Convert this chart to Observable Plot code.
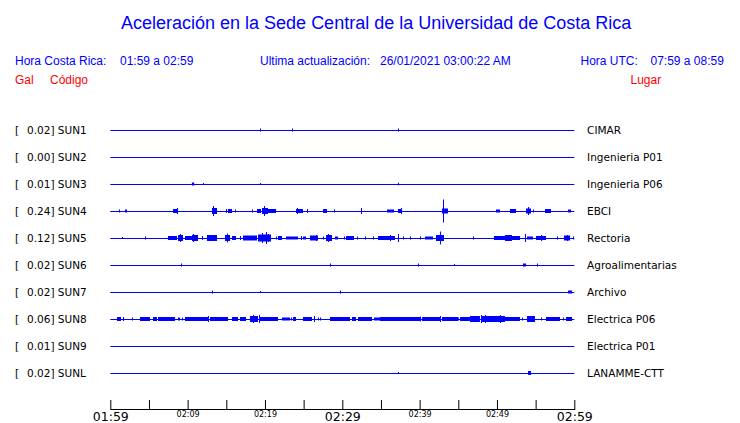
<!DOCTYPE html>
<html><head><meta charset="utf-8">
<script src="https://cdn.jsdelivr.net/npm/d3@7"></script>
<script src="https://cdn.jsdelivr.net/npm/@observablehq/plot@0.6"></script>
<style>
body{margin:0;background:#fff;width:740px;height:423px;overflow:hidden;font-family:"Liberation Sans",Arial,sans-serif;}
#head{position:relative;height:90px;width:740px;}
#head span{position:absolute;white-space:pre;line-height:1;}
.b{color:#0000ff;font-size:12px;top:54.8px}
.r{color:#ff0000;font-size:12px;top:74.1px}
#title{font-size:18px;color:#0000ff;top:13.8px;left:121px}
#chart{height:333px}
</style></head><body>
<div id="head"></div>
<div id="chart"></div>
<script>
// ---------- data ----------
const titleText = "Aceleración en la Sede Central de la Universidad de Costa Rica";
const localWindow = "01:59 a 02:59";
const utcWindow = "07:59 a 08:59";
const lastUpdate = "26/01/2021 03:00:22 AM";
const startTime = "01:59";
const endTime = "02:59";
const tickLabels = ["01:59","02:04","02:09","02:14","02:19","02:24","02:29","02:34","02:39","02:44","02:49","02:54","02:59"];
const majorLabels = ["01:59","02:29","02:59"];
const minorLabels = ["02:09","02:19","02:39","02:49"];

const stations = ["SUN1","SUN2","SUN3","SUN4","SUN5","SUN6","SUN7","SUN8","SUN9","SUNL"];
const places = ["CIMAR","Ingenieria P01","Ingenieria P06","EBCI","Rectoria","Agroalimentarias","Archivo","Electrica P06","Electrica P01","LANAMME-CTT"];
const peakGal = [0.02,0.00,0.01,0.24,0.12,0.02,0.02,0.06,0.01,0.02];

// bursts: [start minute after 01:59, end minute, half amplitude (counts)]
// spikes: [minute after 01:59, half amplitude (counts)]
const burstsSUN1 = [];
const spikesSUN1 = [[19.36,1.5],[23.5,1.5],[37.2,1.5]];
const burstsSUN2 = [];
const spikesSUN2 = [];
const burstsSUN3 = [[10.55,10.85,1.5]];
const spikesSUN3 = [[11.99,1],[19.36,1],[37.2,1.3]];
const burstsSUN4 = [[1.9,2.16,1.5],[8.11,8.75,2],[13.15,13.8,3],[15.22,15.74,2],[18.97,19.49,2],[19.62,20.39,3],[20.39,21.43,2],[24.01,24.92,2],[27.51,28.02,2],[35.78,36.69,1.5],[37.2,37.72,2],[42.89,43.67,2.5],[49.87,50.39,1.5],[51.68,52.47,2],[53.76,54.4,2.5],[56.21,56.99,2],[59.19,59.58,1.5]];
const spikesSUN4 = [[1.12,1.5],[8.62,3],[13.28,5],[14.96,2],[16.13,1.5],[18.32,1.5],[19.88,5],[24.14,3],[25.44,2],[28.93,1.5],[32.42,3],[37.6,3],[43.02,11.5],[54.02,4],[54.66,1.5]];
const burstsSUN5 = [[7.46,8.62,2],[8.75,9.4,3],[9.66,10.56,2],[10.56,11.34,3],[12.5,13.8,3],[14.83,15.48,3],[15.74,16.25,2],[17.16,18.97,2.5],[19.1,20.78,3.5],[21.68,22.2,2],[22.72,24.27,1.5],[24.92,25.31,1.5],[25.82,26.86,2.5],[27.9,28.67,3],[29.06,29.45,1.5],[30.48,31.51,2],[34.62,36.81,2],[40.7,41.73,1.5],[42.12,43.15,3],[49.61,52.98,2],[51.03,51.94,3],[53.89,54.66,1.5],[55.05,56.34,2],[58.67,59.45,2.5]];
const spikesSUN5 = [[1.51,1],[4.49,1.5],[9.01,4],[10.69,4],[11.86,2],[15.09,4.5],[16.77,2],[19.62,5],[20.13,6],[20.39,4],[21.43,1.5],[24.66,2],[26.6,3],[27.51,1.5],[28.15,4],[30.22,1.5],[31.9,1.5],[32.94,1.5],[33.97,1.5],[36.17,3],[37.2,4],[37.85,1.5],[38.75,1.5],[40.05,1.5],[42.64,6.5],[46.9,1.5],[53.63,4],[55.7,3],[57.76,1.5],[59.06,3],[59.84,1.5]];
const burstsSUN6 = [[53.37,53.76,1.5]];
const spikesSUN6 = [[9.14,1.5],[28.41,1.5],[39.79,1.5],[44.44,1],[55.18,1.5]];
const burstsSUN7 = [[59.19,59.71,1.5]];
const spikesSUN7 = [[13.15,1.5],[19.36,1],[29.71,1.5]];
const burstsSUN8 = [[0.87,1.38,2],[1.64,1.77,2],[3.84,5.13,2],[5.52,6.04,2],[6.17,8.37,2],[8.75,9.01,1.5],[9.66,12.63,2],[12.89,15.22,2],[15.74,16.51,2],[16.77,17.55,2],[18.06,19.1,3],[19.36,21.68,2],[22.2,23.24,1.5],[23.62,24.01,2],[24.92,26.08,2],[28.41,30.61,2],[30.61,31.0,2],[31.25,31.77,2],[32.03,33.84,2],[34.1,34.88,1.5],[34.88,37.2,2],[37.2,40.05,2],[40.31,42.64,2],[42.89,44.96,2],[45.22,46.51,2],[46.51,47.8,3],[48.06,51.03,3],[51.03,52.98,2],[53.89,54.92,3],[56.34,58.15,2],[58.93,59.71,2]];
const spikesSUN8 = [[2.81,1.5],[9.27,1.5],[12.63,3],[18.45,4],[19.23,4],[23.37,1.5],[26.34,3],[26.86,1.5],[27.12,1.5],[40.05,2.5],[42.64,3],[44.96,1.5],[47.93,4],[48.45,4],[50.39,4],[53.24,1.5],[55.7,1.5],[58.54,1.5]];
const burstsSUN9 = [];
const spikesSUN9 = [];
const burstsSUNL = [[54.02,54.4,2]];
const spikesSUNL = [[37.2,1]];

const countsPerTrace = 27; // display gain: trace separation in counts

// ---------- build ----------
const burstsByStation = [burstsSUN1,burstsSUN2,burstsSUN3,burstsSUN4,burstsSUN5,burstsSUN6,burstsSUN7,burstsSUN8,burstsSUN9,burstsSUNL];
const spikesByStation = [spikesSUN1,spikesSUN2,spikesSUN3,spikesSUN4,spikesSUN5,spikesSUN6,spikesSUN7,spikesSUN8,spikesSUN9,spikesSUNL];
const parse = d3.utcParse("%H:%M");
const t0 = parse(startTime), t1 = parse(endTime);
const at = m => new Date(+t0 + m * 60000);

const rows = stations.map((s, i) => ({s, i, place: places[i], gal: peakGal[i]}));
const bursts = burstsByStation.flatMap((arr, i) => arr.map(([a, b, amp]) => ({i, x1: at(a), x2: at(b), y1: i - amp / countsPerTrace, y2: i + amp / countsPerTrace})));
const spikes = spikesByStation.flatMap((arr, i) => arr.map(([m, amp]) => ({i, x: at(m), y1: i - amp / countsPerTrace, y2: i + amp / countsPerTrace})));

const head = document.getElementById("head");
head.innerHTML = `
<span id="title">${titleText}</span>
<span class="b" style="left:15px">Hora Costa Rica:</span>
<span class="b" style="left:120px">${localWindow}</span>
<span class="b" style="left:260px">Ultima actualización:</span>
<span class="b" style="left:380px">${lastUpdate}</span>
<span class="b" style="left:580.5px">Hora UTC:</span>
<span class="b" style="left:650.5px">${utcWindow}</span>
<span class="r" style="left:15px">Gal</span>
<span class="r" style="left:50px">Código</span>
<span class="r" style="left:630.5px">Lugar</span>`;

const blue = "#0000ff";
const chart = Plot.plot({
  width: 740, height: 333,
  marginLeft: 110.3, marginRight: 165.7, marginTop: 0, marginBottom: 14,
  x: {type: "utc", domain: [t0, t1], axis: null},
  y: {domain: [0, 9], range: [40, 283], axis: null},
  style: {fontFamily: "DejaVu Sans", fontSize: "10.5px", background: "white", color: "black"},
  marks: [
    Plot.ruleY(rows, {y: "i", stroke: blue, strokeWidth: 1}),
    Plot.rect(bursts, {x1: "x1", x2: "x2", y1: "y1", y2: "y2", fill: blue}),
    Plot.ruleX(spikes, {x: "x", y1: "y1", y2: "y2", stroke: blue, strokeWidth: 1}),
    Plot.text(rows, {y: "i", text: () => "[", frameAnchor: "left", dx: -95.8, textAnchor: "start", fill: "black"}),
    Plot.text(rows, {y: "i", text: d => `${d.gal.toFixed(2)}] ${d.s}`, frameAnchor: "left", dx: -83.8, textAnchor: "start", fill: "black"}),
    Plot.text(rows, {y: "i", text: "place", frameAnchor: "right", dx: 12.3, textAnchor: "start", fill: "black"}),
    Plot.frame({anchor: "bottom", stroke: "black"}),
    Plot.ruleX(tickLabels, {x: d => parse(d), stroke: "black", insetTop: 310}),
    Plot.text(majorLabels, {x: d => parse(d), text: d => d, frameAnchor: "bottom", lineAnchor: "middle", dy: 7.2, fontSize: 12.5, fill: "black", letterSpacing: "0.3px"}),
    Plot.text(minorLabels, {x: d => parse(d), text: d => d, frameAnchor: "bottom", lineAnchor: "middle", dy: 4.7, fontSize: 8, fill: "black"})
  ]
});
document.getElementById("chart").appendChild(chart);
</script>
</body></html>
